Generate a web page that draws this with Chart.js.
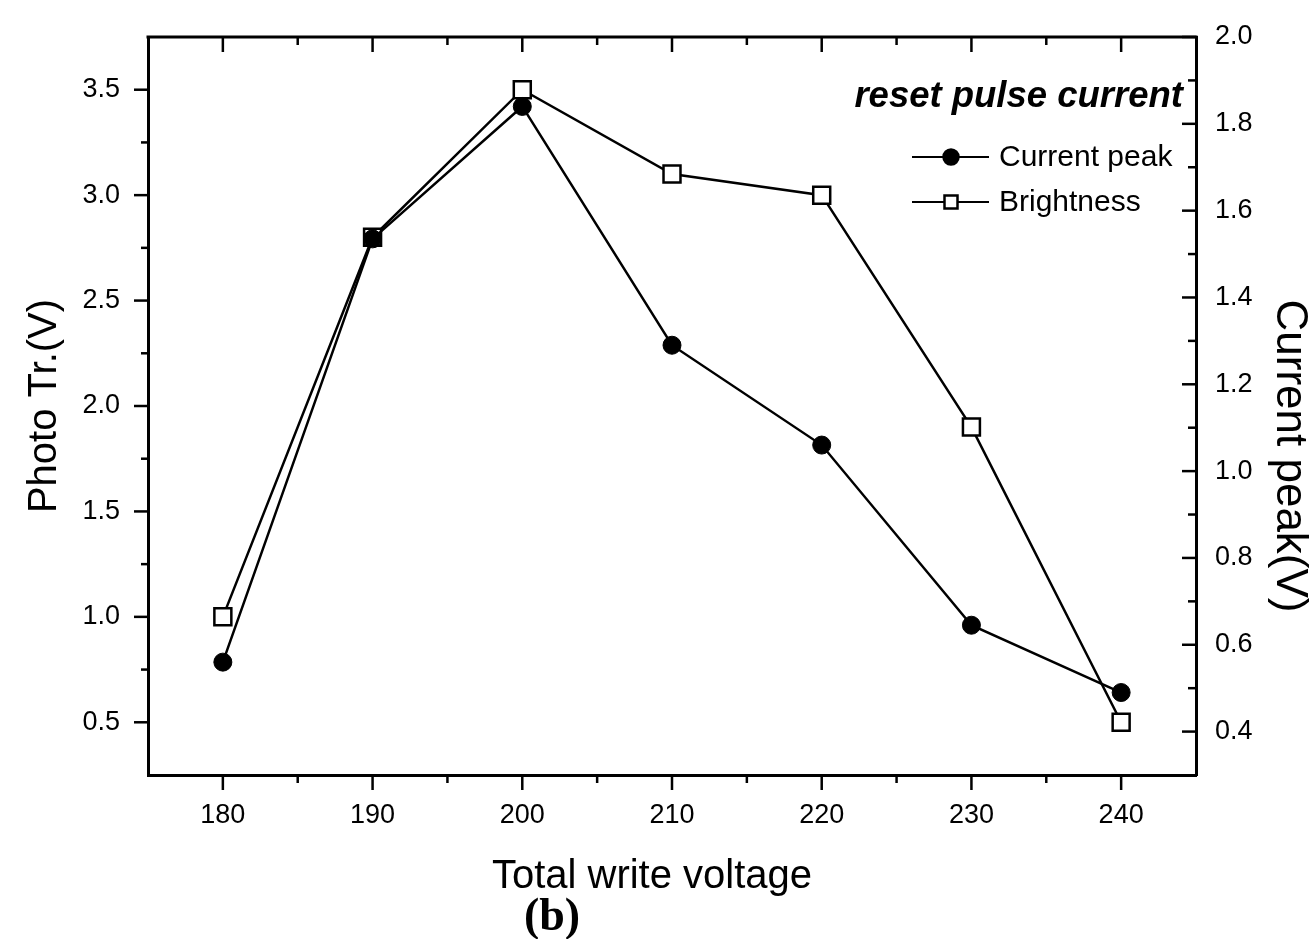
<!DOCTYPE html>
<html>
<head>
<meta charset="utf-8">
<title>reset pulse current</title>
<script src="https://cdn.jsdelivr.net/npm/chart.js@4.4.1/dist/chart.umd.min.js"></script>
<style>
  html, body { margin: 0; padding: 0; background: #fff; }
  #wrap { width: 1314px; height: 939px; }
</style>
</head>
<body>
<div id="wrap"><canvas id="chart" width="1314" height="939"></canvas></div>
<script>
const voltage = [180, 190, 200, 210, 220, 230, 240];
const currentPeak = [0.56, 1.535, 1.84, 1.29, 1.06, 0.645, 0.49];
const brightness = [1.0, 2.8, 3.5, 3.1, 3.0, 1.9, 0.5];

const xTicks = [180, 190, 200, 210, 220, 230, 240];
const xMinorTicks = [185, 195, 205, 215, 225, 235];
const leftTicks = [0.5, 1.0, 1.5, 2.0, 2.5, 3.0, 3.5];
const leftMinorTicks = [0.75, 1.25, 1.75, 2.25, 2.75, 3.25];
const rightTicks = [0.4, 0.6, 0.8, 1.0, 1.2, 1.4, 1.6, 1.8, 2.0];
const rightMinorTicks = [0.5, 0.7, 0.9, 1.1, 1.3, 1.5, 1.7, 1.9];

const INK = '#000';
const SANS = '"Liberation Sans", Arial, Helvetica, sans-serif';

function toPoints(values) {
  return voltage.map((v, i) => ({ x: v, y: values[i] }));
}

function fixTicks(values) {
  return (scale) => {
    scale.ticks = values.map((value) => ({ value }));
  };
}

// fixed axis boxes so the plot frame lands where the original has it
function fixBox(size) {
  return (scale) => {
    if (scale.isHorizontal()) {
      scale.height = size;
      scale.paddingLeft = 0;
      scale.paddingRight = 0;
    } else {
      scale.width = size;
      scale.paddingTop = 0;
      scale.paddingBottom = 0;
    }
  };
}

// tick marks: left/bottom point out, top/right point in
const tickMarks = {
  id: 'tickMarks',
  afterDraw(chart) {
    const { ctx, chartArea } = chart;
    const x = chart.scales.x;
    const yL = chart.scales.yL;
    const yR = chart.scales.yR;
    ctx.save();
    ctx.strokeStyle = INK;
    ctx.lineWidth = 2.5;

    function seg(x1, y1, x2, y2) {
      ctx.beginPath();
      ctx.moveTo(x1, y1);
      ctx.lineTo(x2, y2);
      ctx.stroke();
    }

    leftTicks.forEach((v) => { const p = yL.getPixelForValue(v); seg(chartArea.left, p, chartArea.left - 14, p); });
    leftMinorTicks.forEach((v) => { const p = yL.getPixelForValue(v); seg(chartArea.left, p, chartArea.left - 7, p); });
    rightTicks.forEach((v) => { const p = yR.getPixelForValue(v); seg(chartArea.right, p, chartArea.right - 14, p); });
    rightMinorTicks.forEach((v) => { const p = yR.getPixelForValue(v); seg(chartArea.right, p, chartArea.right - 8, p); });
    xTicks.forEach((v) => {
      const p = x.getPixelForValue(v);
      seg(p, chartArea.bottom, p, chartArea.bottom + 15);
      seg(p, chartArea.top, p, chartArea.top + 15);
    });
    xMinorTicks.forEach((v) => {
      const p = x.getPixelForValue(v);
      seg(p, chartArea.bottom, p, chartArea.bottom + 8);
      seg(p, chartArea.top, p, chartArea.top + 8);
    });

    // top frame line
    ctx.lineWidth = 3;
    seg(chartArea.left - 1.5, chartArea.top, chartArea.right + 1.5, chartArea.top);
    ctx.restore();
  },
};

// titles that sit off-centre, the inset legend and the panel letter
const figureText = {
  id: 'figureText',
  afterDraw(chart) {
    const { ctx, chartArea } = chart;
    ctx.save();
    ctx.fillStyle = INK;

    ctx.font = `40px ${SANS}`;
    ctx.textAlign = 'center';
    ctx.textBaseline = 'alphabetic';
    ctx.fillText('Total write voltage', 652, 888);

    ctx.font = `bold 46px "Liberation Serif", "Times New Roman", serif`;
    ctx.fillText('(b)', 552, 930);

    ctx.save();
    ctx.translate(1289, 456);
    ctx.rotate(Math.PI / 2);
    ctx.font = `44px ${SANS}`;
    ctx.textBaseline = 'middle';
    ctx.fillText('Current peak(V)', 0, 0);
    ctx.restore();

    // legend
    const right = chartArea.right - 13;
    ctx.textAlign = 'right';
    ctx.font = `italic bold 36.5px ${SANS}`;
    ctx.fillText('reset pulse current', right, 107);

    const rows = [
      { label: 'Current peak', y: 157, ds: chart.data.datasets[0] },
      { label: 'Brightness', y: 202, ds: chart.data.datasets[1] },
    ];
    ctx.textAlign = 'left';
    ctx.textBaseline = 'middle';
    ctx.font = `30px ${SANS}`;
    rows.forEach((row) => {
      ctx.strokeStyle = INK;
      ctx.lineWidth = 2;
      ctx.beginPath();
      ctx.moveTo(912, row.y);
      ctx.lineTo(989, row.y);
      ctx.stroke();
      ctx.lineWidth = 2.5;
      ctx.fillStyle = row.ds.pointBackgroundColor;
      ctx.beginPath();
      if (row.ds.pointStyle === 'rect') {
        ctx.rect(951 - 6.5, row.y - 6.5, 13, 13);
      } else {
        ctx.arc(951, row.y, 7.5, 0, Math.PI * 2);
      }
      ctx.fill();
      ctx.stroke();
      ctx.fillStyle = INK;
      ctx.fillText(row.label, 999, row.y + 1);
    });
    ctx.restore();
  },
};

new Chart(document.getElementById('chart'), {
  type: 'line',
  data: {
    datasets: [
      {
        label: 'Current peak',
        data: toPoints(currentPeak),
        yAxisID: 'yR',
        borderColor: INK,
        borderWidth: 2.5,
        pointStyle: 'circle',
        pointRadius: 9,
        pointBackgroundColor: INK,
        pointBorderColor: INK,
        pointBorderWidth: 1,
        tension: 0,
      },
      {
        label: 'Brightness',
        data: toPoints(brightness),
        yAxisID: 'yL',
        borderColor: INK,
        borderWidth: 2.5,
        pointStyle: 'rect',
        pointRadius: 12,
        pointBackgroundColor: '#fff',
        pointBorderColor: INK,
        pointBorderWidth: 2.5,
        tension: 0,
      },
    ],
  },
  options: {
    responsive: false,
    animation: false,
    layout: { padding: { top: 37, left: 0, right: 0, bottom: 0 } },
    plugins: {
      legend: { display: false },
      tooltip: { enabled: false },
    },
    scales: {
      x: {
        type: 'linear',
        position: 'bottom',
        min: 175,
        max: 245,
        afterBuildTicks: fixTicks(xTicks),
        afterFit: fixBox(164),
        grid: { display: false, drawTicks: false },
        border: { display: true, color: INK, width: 3 },
        ticks: {
          color: INK,
          padding: 24,
          maxRotation: 0,
          font: { family: SANS, size: 27 },
          callback: (v) => String(v),
        },
      },
      yL: {
        type: 'linear',
        position: 'left',
        min: 0.25,
        max: 3.75,
        afterBuildTicks: fixTicks(leftTicks),
        afterFit: fixBox(148),
        grid: { display: false, drawTicks: false },
        border: { display: true, color: INK, width: 3 },
        ticks: {
          color: INK,
          padding: 28,
          font: { family: SANS, size: 27 },
          callback: (v) => Number(v).toFixed(1),
        },
        title: {
          display: true,
          text: 'Photo Tr.(V)',
          color: INK,
          font: { family: SANS, size: 40 },
          padding: { top: 21, bottom: 0 },
        },
      },
      yR: {
        type: 'linear',
        position: 'right',
        min: 0.3,
        max: 2.0,
        afterBuildTicks: fixTicks(rightTicks),
        afterFit: fixBox(118),
        grid: { display: false, drawTicks: false },
        border: { display: true, color: INK, width: 3 },
        ticks: {
          color: INK,
          padding: 19,
          font: { family: SANS, size: 27 },
          callback: (v) => Number(v).toFixed(1),
        },
      },
    },
  },
  plugins: [tickMarks, figureText],
});
</script>
</body>
</html>
